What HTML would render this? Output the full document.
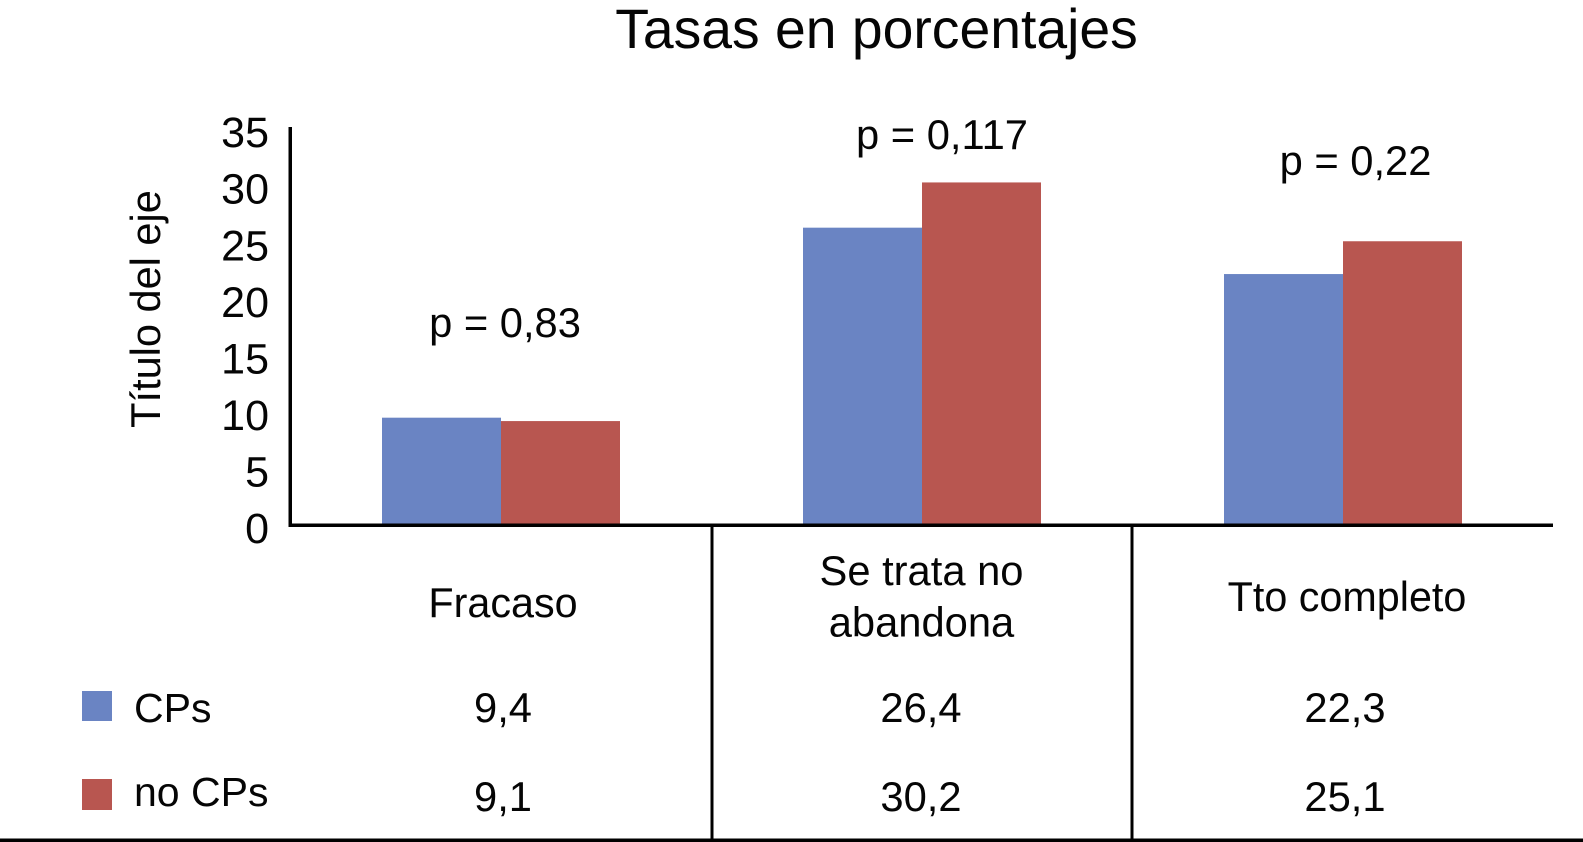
<!DOCTYPE html>
<html lang="es">
<head>
<meta charset="utf-8">
<title>Tasas en porcentajes</title>
<style>
  html, body { margin: 0; padding: 0; background: #fff; }
  svg { display: block; }
  text { font-family: "Liberation Sans", sans-serif; fill: #050505; }
</style>
</head>
<body>
<svg id="chart" width="1583" height="842" viewBox="0 0 1583 842" xmlns="http://www.w3.org/2000/svg">
  <text x="876.5" y="48" font-size="55.3" text-anchor="middle">Tasas en porcentajes</text>
  <text transform="translate(160 309) rotate(-90)" font-size="41.5" text-anchor="middle">Título del eje</text>
  <g id="bars"></g>
  <g id="y-ticks"></g>
  <g id="table-values"></g>

  <rect x="288.5" y="127" width="3.5" height="399"></rect>
  <rect x="288.5" y="523.5" width="1264.5" height="3.5"></rect>
  <rect x="710.5" y="525" width="3" height="317"></rect>
  <rect x="1130.5" y="525" width="3" height="317"></rect>
  <rect x="0" y="838.5" width="1583" height="3.5"></rect>

  <text x="505" y="337" font-size="41.7" text-anchor="middle">p = 0,83</text>
  <text x="942" y="149" font-size="41.7" text-anchor="middle">p = 0,117</text>
  <text x="1355.5" y="175" font-size="41.7" text-anchor="middle">p = 0,22</text>

  <text x="503" y="617" font-size="41.3" text-anchor="middle">Fracaso</text>
  <text x="921.5" y="585" font-size="41.7" text-anchor="middle">Se trata no</text>
  <text x="921.5" y="636.5" font-size="41.7" text-anchor="middle">abandona</text>
  <text x="1347" y="611" font-size="41.3" text-anchor="middle">Tto completo</text>

  <rect x="82" y="691" width="30" height="30" fill="#6a84c3"></rect>
  <text x="134" y="722" font-size="41">CPs</text>
  <rect x="82" y="779" width="30" height="31" fill="#b85650"></rect>
  <text x="134" y="806" font-size="41">no CPs</text>
</svg>
<script>
const categories = ["Fracaso", "Se trata no abandona", "Tto completo"];
// Bar heights as drawn in the picture (measured against the axis).
const cpsValues = [9.4, 26.2, 22.1];
const noCpsValues = [9.1, 30.2, 25.0];
// Values as printed in the data table under the chart.
const cpsPrinted = ["9,4", "26,4", "22,3"];
const noCpsPrinted = ["9,1", "30,2", "25,1"];
const tickLabels = [0, 5, 10, 15, 20, 25, 30, 35];

const SVG_NS = "http://www.w3.org/2000/svg";
const plotLeft = 290, bandWidth = 421, barWidth = 119;
const yZero = 524, pxPerUnit = 11.31;

function xCenter(i) { return plotLeft + bandWidth * (i + 0.5) + 0.5; }
function yScale(v) { return yZero - v * pxPerUnit; }

const barsGroup = document.getElementById("bars");
const ticksGroup = document.getElementById("y-ticks");
const tableGroup = document.getElementById("table-values");

function addBar(value, i, offset, color, seriesName) {
  const r = document.createElementNS(SVG_NS, "rect");
  r.setAttribute("x", xCenter(i) + offset);
  r.setAttribute("y", yScale(value));
  r.setAttribute("width", barWidth);
  r.setAttribute("height", yZero - yScale(value));
  r.setAttribute("fill", color);
  
  
  barsGroup.appendChild(r);
}

function addCell(label, i, baseline, seriesName) {
  const t = document.createElementNS(SVG_NS, "text");
  t.setAttribute("x", xCenter(i) + (i === 1 ? -1 : 2));
  t.setAttribute("y", baseline);
  t.setAttribute("font-size", "41.7");
  t.setAttribute("text-anchor", "middle");
  t.textContent = label;
  
  
  tableGroup.appendChild(t);
}

categories.forEach(function (c, i) {
  addBar(cpsValues[i], i, -barWidth, "#6a84c3", "cps");
  addBar(noCpsValues[i], i, 0, "#b85650", "no-cps");
  addCell(cpsPrinted[i], i, 722, "cps");
  addCell(noCpsPrinted[i], i, 811, "no-cps");
});

tickLabels.forEach(function (v) {
  const t = document.createElementNS(SVG_NS, "text");
  t.setAttribute("x", 269);
  t.setAttribute("y", yScale(v) + 19);
  t.setAttribute("font-size", "43");
  t.setAttribute("text-anchor", "end");
  t.textContent = v;
  
  
  ticksGroup.appendChild(t);
});
</script>
</body>
</html>
